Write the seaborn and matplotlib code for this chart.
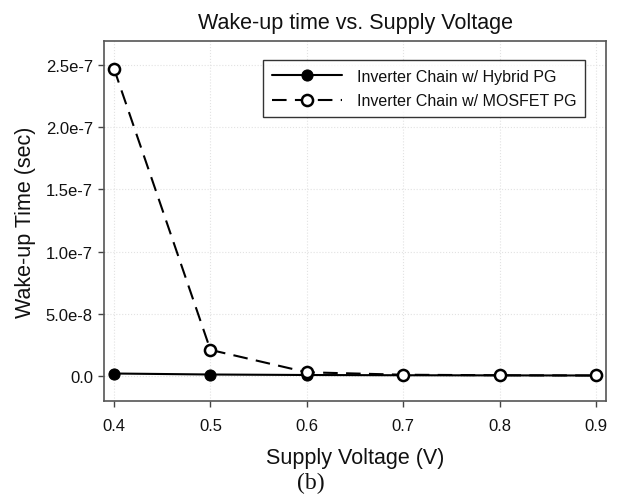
import numpy as np
import pandas as pd
import matplotlib
matplotlib.use("Agg")
import matplotlib.pyplot as plt
import seaborn as sns

voltage = [0.4, 0.5, 0.6, 0.7, 0.8, 0.9]
hybrid_pg = [2.0e-9, 1.2e-9, 0.8e-9, 0.6e-9, 0.5e-9, 0.4e-9]
mosfet_pg = [2.47e-7, 2.1e-8, 3.0e-9, 1.0e-9, 0.6e-9, 0.4e-9]
y_ticks = [0.0, 5.0e-8, 1.0e-7, 1.5e-7, 2.0e-7, 2.5e-7]
y_tick_labels = ["0.0", "5.0e-8", "1.0e-7", "1.5e-7", "2.0e-7", "2.5e-7"]

sns.set_style("ticks")
plt.rcParams['font.family'] = ['Liberation Sans', 'DejaVu Sans']
plt.rcParams['text.color'] = '#111111'
plt.rcParams['axes.labelcolor'] = '#111111'
plt.rcParams['xtick.labelcolor'] = '#111111'
plt.rcParams['ytick.labelcolor'] = '#111111'

W, H = 621, 502
fig = plt.figure(figsize=(W / 100, H / 100), dpi=100)
# axes box: left 104, right 606, top 42, bottom 402 (pixels)
ax = fig.add_axes([104 / W, 1 - 402 / H, 502 / W, 360 / H])

df = pd.DataFrame({"v": voltage, "hybrid": hybrid_pg, "mosfet": mosfet_pg})

sns.lineplot(data=df, x="v", y="mosfet", ax=ax, color="black", lw=1.5,
             linestyle=(0, (7, 4)), marker="o", markersize=8,
             markerfacecolor="white", markeredgecolor="black", markeredgewidth=1.8,
             label="Inverter Chain w/ MOSFET PG", zorder=3)
sns.lineplot(data=df, x="v", y="hybrid", ax=ax, color="black", lw=1.5,
             marker="o", markersize=8, markerfacecolor="black",
             markeredgecolor="black", label="Inverter Chain w/ Hybrid PG", zorder=2)

ax.set_xlim(0.3896, 0.9104)
ax.set_ylim(-0.201e-7, 2.693e-7)
ax.set_xticks(voltage)
ax.set_xticklabels([f"{v:.1f}" for v in voltage])
ax.set_yticks(y_ticks)
ax.set_yticklabels(y_tick_labels)
ax.grid(True, linestyle=":", color="#e2e2e2", lw=0.8)
ax.tick_params(labelsize=12, length=4, width=1, color="#444444")
ax.tick_params(axis="x", pad=8)
ax.tick_params(axis="y", pad=4)
for s in ax.spines.values():
    s.set_color("#555555")
    s.set_linewidth(1.2)

ax.set_xlabel("Supply Voltage (V)", fontsize=15.5, labelpad=10)
ax.set_ylabel("Wake-up Time (sec)", fontsize=15.5, labelpad=7)
ax.set_title("Wake-up time vs. Supply Voltage", fontsize=15.5, pad=9)

handles, labels = ax.get_legend_handles_labels()
leg = ax.legend(handles[::-1], labels[::-1], loc="upper right",
                bbox_to_anchor=(0.958, 0.947), borderaxespad=0,
                fontsize=11.5, frameon=True, fancybox=False, edgecolor="black",
                handlelength=4.4, handletextpad=0.9, borderpad=0.55,
                labelspacing=0.6)
leg.get_frame().set_linewidth(1.0)

fig.text(0.5, 1 - 483 / H, "(b)", ha="center", va="center", fontsize=17,
         family=["Liberation Serif", "DejaVu Serif"])

fig.savefig("out.png", dpi=100)
